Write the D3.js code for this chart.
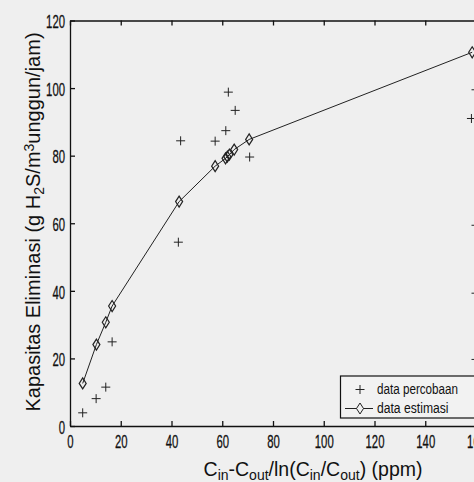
<!DOCTYPE html>
<html>
<head>
<meta charset="utf-8">
<script src="https://cdn.jsdelivr.net/npm/d3@7"></script>
<style>
  body { margin: 0; background: #efefef; }
  svg { display: block; font-family: "Liberation Sans", Arial, sans-serif; }
  .axis path, .axis line { stroke: #111; stroke-width: 1.3; }
  .axis text { fill: #111; font-size: 18px; stroke: #111; stroke-width: 0.3; }
</style>
</head>
<body>
<div id="chart"></div>
<script>
// estimated model (line with diamonds)
var estX = [5.0, 10.4, 14.1, 16.6, 43.0, 57.2, 61.3, 62.0, 62.8, 64.7, 70.6, 158.5];
var estY = [12.6, 24.1, 30.7, 35.5, 66.4, 76.9, 79.2, 79.7, 80.3, 81.8, 84.8, 110.6];

// experimental points (plus markers)
var expX = [5.0, 10.3, 14.1, 16.6, 42.7, 43.6, 57.2, 61.4, 62.4, 65.1, 70.8, 158.2, 160, 160, 160, 160];
var expY = [3.9, 8.1, 11.5, 24.9, 54.4, 84.4, 84.3, 87.4, 98.8, 93.4, 79.6, 91.0, 99.5, 59.4, 39.3, 19.7];

var xTicks = [0, 20, 40, 60, 80, 100, 120, 140, 160];
var yTicks = [0, 20, 40, 60, 80, 100, 120];
var legendLabels = ["data percobaan", "data estimasi"];

var W = 474, H = 482;
var svg = d3.select("#chart").append("svg")
    .attr("width", W)
    .attr("height", H);

var x = d3.scaleLinear().domain([0, 160]).range([70, 476]);
var y = d3.scaleLinear().domain([0, 120]).range([426, 20.5]);

// narrow tick digits like the scan
function squeeze(sel, perChar) {
    sel.selectAll("text").each(function () {
        var t = d3.select(this);
        t.attr("textLength", t.text().length * perChar)
         .attr("lengthAdjust", "spacingAndGlyphs");
    });
}

/* axes */
var gx = svg.append("g").attr("class", "axis")
    .attr("transform", "translate(0," + y(0) + ")")
    .call(d3.axisBottom(x).tickValues(xTicks).tickSize(-5).tickSizeOuter(0).tickPadding(9));
squeeze(gx, 6.3);

var gy = svg.append("g").attr("class", "axis")
    .attr("transform", "translate(" + x(0) + ",0)")
    .call(d3.axisLeft(y).tickValues(yTicks).tickSize(-5).tickSizeOuter(0).tickPadding(5));
squeeze(gy, 6.3);
gy.selectAll("text").attr("dy", "0.4em");

svg.append("g").attr("class", "axis")
    .attr("transform", "translate(0," + y(120) + ")")
    .call(d3.axisTop(x).tickValues(xTicks).tickSize(-5).tickSizeOuter(0).tickFormat(""));

/* estimation line + diamonds */
var est = estX.map(function (d, i) { return [d, estY[i]]; });
svg.append("path")
    .datum(est)
    .attr("fill", "none")
    .attr("stroke", "#222")
    .attr("stroke-width", 1)
    .attr("d", d3.line().x(function (d) { return x(d[0]); }).y(function (d) { return y(d[1]); }));

function diamond(cx, cy) {
    return "M" + cx + "," + (cy - 5.5) + "L" + (cx + 3.5) + "," + cy +
        "L" + cx + "," + (cy + 5.5) + "L" + (cx - 3.5) + "," + cy + "Z";
}
svg.append("g").selectAll("path")
    .data(est)
    .enter().append("path")
    .attr("d", function (d) { return diamond(x(d[0]), y(d[1])); })
    .attr("fill", "none")
    .attr("stroke", "#222")
    .attr("stroke-width", 1.2);

/* experimental plus markers */
function plus(cx, cy) {
    return "M" + (cx - 4.5) + "," + cy + "H" + (cx + 4.5) +
        "M" + cx + "," + (cy - 4.5) + "V" + (cy + 4.5);
}
svg.append("g").selectAll("path")
    .data(expX.map(function (d, i) { return [d, expY[i]]; }))
    .enter().append("path")
    .attr("d", function (d) { return plus(x(d[0]), y(d[1])); })
    .attr("fill", "none")
    .attr("stroke", "#222")
    .attr("stroke-width", 1);

/* legend */
var lg = svg.append("g");
lg.append("rect")
    .attr("x", 340.5).attr("y", 376)
    .attr("width", 150).attr("height", 42)
    .attr("fill", "#f2f2f2")
    .attr("stroke", "#111").attr("stroke-width", 1.2);
lg.append("path").attr("d", plus(360, 389.5)).attr("stroke", "#222").attr("fill", "none");
lg.append("line").attr("x1", 345).attr("x2", 373).attr("y1", 408.5).attr("y2", 408.5)
    .attr("stroke", "#222");
lg.append("path").attr("d", diamond(360, 408.5)).attr("stroke", "#222").attr("fill", "#f2f2f2");
lg.selectAll("text.lab")
    .data(legendLabels)
    .enter().append("text")
    .attr("class", "lab")
    .attr("x", 377)
    .attr("y", function (d, i) { return 394 + i * 19; })
    .attr("font-size", 14)
    .attr("fill", "#111")
    .attr("textLength", function (d, i) { return i === 0 ? 81 : 71.5; })
    .attr("lengthAdjust", "spacingAndGlyphs")
    .text(function (d) { return d; });

/* axis titles */
var xt = svg.append("text")
    .attr("x", 313).attr("y", 476)
    .attr("text-anchor", "middle")
    .attr("font-size", 19.5)
    .attr("fill", "#111");
[["C", 0], ["in", 1], ["-C", 0], ["out", 1], ["/ln(C", 0], ["in", 1], ["/C", 0], ["out", 1], [") (ppm)", 0]]
    .forEach(function (p) {
        xt.append("tspan")
            .attr("font-size", p[1] ? 14 : 19.5)
            .attr("baseline-shift", p[1] ? "-25%" : null)
            .text(p[0]);
    });

var yt = svg.append("text")
    .attr("transform", "translate(40,222) rotate(-90)")
    .attr("text-anchor", "middle")
    .attr("font-size", 20)
    .attr("fill", "#111");
[["Kapasitas Eliminasi (g H", 0], ["2", -1], ["S/m", 0], ["3", 1], ["unggun/jam)", 0]]
    .forEach(function (p) {
        yt.append("tspan")
            .attr("font-size", p[1] ? 14 : 20)
            .attr("baseline-shift", p[1] === -1 ? "-25%" : (p[1] === 1 ? "40%" : null))
            .text(p[0]);
    });
</script>
</body>
</html>
